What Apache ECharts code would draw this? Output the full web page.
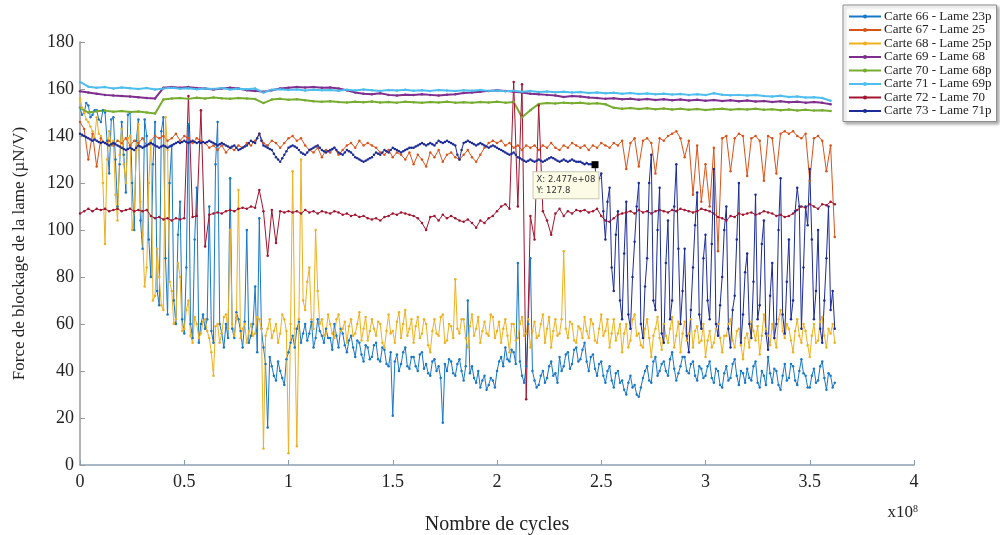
<!DOCTYPE html>
<html>
<head>
<meta charset="utf-8">
<script src="https://cdn.jsdelivr.net/npm/echarts@6/dist/echarts.min.js"></script>
<style>
  html, body { margin: 0; padding: 0; background: #fff; }
  #chart { width: 1000px; height: 535px; }
</style>
</head>
<body>
<div id="chart"></div>
<script>
// x in units of 1e8 cycles; each series sampled with a fixed x step
const stepDense = 0.01;
const stepFine = 0.02;
const stepCoarse = 0.04;

const names = [
  'Carte 66 - Lame 23p', 'Carte 67 - Lame 25', 'Carte 68 - Lame 25p', 'Carte 69 - Lame 68',
  'Carte 70 - Lame 68p', 'Carte 71 - Lame 69p', 'Carte 72 - Lame 70', 'Carte 73 - Lame 71p'
];
const colors = ['#1878c6', '#d95319', '#edb120', '#7e2f8e', '#77ac30', '#4dbeee', '#a2142f', '#1c2c96'];

const xTicks = [0, 0.5, 1, 1.5, 2, 2.5, 3, 3.5, 4];
const yTicks = [0, 20, 40, 60, 80, 100, 120, 140, 160, 180];

// Carte 66 (step 0.01)
const c66 = [
  152, 149, 150, 154, 153, 148, 149, 151, 151, 147,
  146, 151, 150, 138, 124, 147, 148, 130, 110, 128,
  146, 132, 116, 149, 150, 120, 100, 138, 147, 104,
  92, 147, 140, 96, 80, 128, 146, 74, 68, 142,
  148, 88, 64, 120, 136, 70, 60, 98, 112, 62,
  56, 84, 145, 60, 54, 96, 118, 52, 60, 64,
  58, 62, 110, 57, 52, 128, 146, 60, 56, 50,
  60, 54, 122, 58, 54, 65, 62, 57, 50, 61,
  100, 52, 55, 60, 76, 48, 105, 58, 50, 43,
  16, 46, 42, 38, 36, 44, 40, 37, 34, 45,
  48, 52, 55, 50, 58, 61, 52, 56, 60, 53,
  56, 61, 50, 54, 62, 57, 55, 52, 58, 54,
  54, 49, 60, 55, 50, 58, 56, 51, 48, 53,
  55, 50, 46, 53, 52, 47, 44, 51, 50, 45,
  46, 51, 52, 45, 44, 50, 49, 43, 42, 48,
  21, 44, 47, 40, 43, 48, 50, 42, 41, 46,
  46, 42, 40, 47, 48, 41, 43, 39, 38, 44,
  45, 40, 42, 37, 18, 43, 40, 45, 44, 39,
  38, 43, 45, 40, 36, 42, 70, 39, 42, 37,
  35, 40, 33, 36, 38, 32, 34, 37, 36, 33,
  40, 44, 46, 42, 50, 45, 44, 49, 48, 43,
  86, 44, 38, 35, 42, 60, 88, 40, 36, 33,
  34, 38, 40, 35, 37, 42, 44, 38, 39, 35,
  46, 40, 42, 47, 48, 41, 43, 49, 50, 44,
  45, 49, 52, 44, 40, 46, 47, 41, 38, 43,
  44, 38, 35, 40, 42, 36, 33, 39, 40, 35,
  36, 32, 30, 35, 38, 33, 34, 30, 29, 33,
  37, 40, 42, 36, 35, 44, 46, 38, 40, 43,
  44, 40, 38, 45, 48, 41, 36, 39, 42, 46,
  46, 40, 39, 43, 44, 38, 36, 42, 41, 37,
  38, 42, 44, 37, 35, 41, 40, 34, 33, 39,
  42, 36, 37, 43, 45, 38, 34, 40, 39, 35,
  41, 37, 36, 42, 44, 35, 33, 40, 38, 34,
  46, 39, 35, 41, 40, 34, 32, 38, 43, 36,
  37, 43, 42, 36, 34, 40, 45, 39, 38, 33,
  33, 38, 41, 35, 36, 42, 44, 37, 32, 39,
  38, 33, 35
];

// Carte 67 (step 0.02)
const c67 = [
  146, 143, 130, 141, 127, 139, 137, 138, 136, 138,
  137, 139, 136, 138, 137, 139, 136, 138, 140, 139,
  140, 138, 139, 141, 138, 140, 139, 137, 139, 138,
  137, 135, 136, 134, 136, 133, 135, 134, 136, 135,
  137, 136, 138, 141, 137, 136, 138, 137, 135, 137,
  139, 140, 138, 139, 136, 134, 133, 135, 131, 134,
  133, 135, 132, 134, 136, 137, 135, 138, 136, 137,
  136, 135, 133, 132, 134, 131, 133, 132, 130, 133,
  128, 132, 130, 127, 133, 131, 134, 129, 132, 133,
  131, 130, 132, 134, 131, 129, 132, 135, 137, 138,
  137, 138, 136, 137, 135, 136, 134, 136, 135, 136,
  134, 136, 135, 137, 135, 134, 136, 135, 137, 136,
  135, 136, 134, 136, 135, 137, 136, 135, 137, 136,
  138, 126, 137, 139, 127, 138, 139, 137, 124, 139,
  138, 140, 141, 142, 139, 131, 138, 115, 136, 112,
  128, 110, 135, 91, 139, 140, 125, 139, 141, 140,
  123, 139, 140, 138, 121, 140, 139, 124, 141, 142,
  141, 142, 140, 139, 141, 121, 139, 140, 138, 125,
  136, 97
];

// Carte 68 (step 0.01)
const c68 = [
  156, 152, 150, 147, 146, 144, 142, 139, 148, 141,
  140, 120, 94, 130, 142, 136, 138, 115, 104, 132,
  143, 128, 120, 139, 140, 100, 108, 134, 145, 112,
  98, 76, 84, 120, 138, 70, 72, 92, 80, 68,
  66, 148, 134, 78, 74, 60, 62, 86, 80, 57,
  58, 66, 70, 55, 52, 63, 60, 54, 56, 61,
  62, 57, 54, 48, 38, 59, 60, 52, 56, 63,
  64, 58, 100, 60, 55, 62, 117, 54, 58, 60,
  52, 57, 60, 55, 56, 63, 62, 58, 7, 55,
  58, 62, 54, 57, 60, 52, 56, 64, 62, 57,
  5, 60, 125, 58, 8, 62, 130, 70, 66, 78,
  84, 62, 58, 100, 74, 60, 62, 55, 56, 64,
  60, 56, 54, 62, 64, 57, 58, 61, 52, 59,
  62, 55, 56, 60, 65, 53, 58, 63, 53, 57,
  62, 58, 55, 61, 60, 52, 50, 57, 64, 56,
  57, 52, 61, 65, 54, 60, 66, 55, 58, 62,
  52, 59, 63, 54, 56, 62, 60, 51, 48, 57,
  62, 56, 55, 63, 64, 52, 53, 60, 59, 54,
  79, 58, 56, 62, 62, 54, 50, 59, 64, 55,
  58, 63, 52, 57, 61, 56, 55, 64, 63, 54,
  57, 61, 52, 58, 62, 55, 48, 60, 60, 53,
  54, 60, 63, 55, 56, 62, 50, 57, 61, 54,
  55, 60, 64, 52, 58, 63, 50, 57, 62, 55,
  56, 62, 91, 58, 54, 61, 60, 53, 52, 59,
  58, 54, 63, 57, 54, 62, 60, 53, 52, 58,
  64, 55, 57, 62, 50, 56, 62, 53, 56, 60,
  48, 56, 60, 50, 53, 62, 64, 55, 56, 51,
  50, 58, 62, 54, 46, 55, 58, 63, 54, 49,
  60, 55, 52, 58, 63, 50, 55, 61, 48, 56,
  61, 53, 56, 62, 50, 57, 59, 52, 53, 60,
  46, 53, 57, 50, 52, 58, 60, 54, 48, 55,
  55, 60, 62, 53, 50, 57, 58, 51, 45, 54,
  56, 50, 61, 57, 53, 59, 47, 55, 64, 58,
  55, 51, 60, 54, 50, 62, 66, 57, 54, 60,
  58, 53, 48, 57, 62, 55, 52, 60, 57, 51,
  46, 55, 60, 52, 53, 61, 63, 55, 50, 58,
  56, 60, 52
];

// Carte 69 (step 0.04)
const c69 = [
  159, 158.5, 158, 157.5, 157.2, 157, 156.8, 156.5, 156.2, 156,
  160.5, 160.8, 160.5, 160.8, 160.4, 160.2, 159.8, 160.2, 160.5, 160.2,
  159.5, 159.2, 158.8, 159.5, 160.2, 160.5, 160.8, 160.6, 160.9, 160.5,
  160.6, 160.2, 159.5, 158.5, 158, 157.8, 158.2, 157.5, 157.2, 157.6,
  157.4, 157.8, 157.5, 157.2, 157.6, 157.8, 158.3, 158.5, 158.8, 159.2,
  159.5, 159.2, 158.8, 158.5, 158, 157.8, 157.5, 157.2, 156.6, 157,
  156.8, 156.4, 156.2, 155.8, 156.1, 155.6, 155.9, 155.4, 155.7, 155.3,
  155.6, 155.2, 155.5, 155.1, 155.4, 155, 155.3, 154.9, 155.2, 154.8,
  155.1, 154.7, 154.9, 154.5, 154.8, 154.4, 154.6, 154.2, 154.5, 154.1,
  153.5
];

// Carte 70 (step 0.04)
const c70 = [
  152, 150, 150.5, 150.8, 150.3, 150.6, 150.2, 150.4, 150, 149.6,
  155.5, 156, 156.2, 155.8, 156.3, 156, 156.4, 156.1, 155.9, 156.2,
  156, 155.7, 154, 155.5, 155.8, 155.4, 155.6, 155.2, 154.8, 154.6,
  154.8, 154.5, 154.3, 154.6, 154.4, 154.7, 154.3, 154.5, 154.2, 154.6,
  154.4, 154.1, 154.5, 154.3, 154.6, 154.2, 154.4, 154.1, 154.5, 154.3,
  154.6, 154.2, 154.5, 148, 151, 153.6, 154, 153.8, 154.2, 153.9,
  154.1, 153.7, 153.9, 153.5, 152, 151.6, 151.9, 151.5, 151.8, 151.4,
  151.7, 151.3, 151.6, 151.2, 151.5, 151.1, 151.4, 151.6, 151.2, 151.5,
  151.3, 151.6, 151.2, 151.4, 151, 151.3, 150.9, 151.2, 150.8, 151,
  150.6
];

// Carte 71 (step 0.04)
const c71 = [
  163, 161, 160.5, 160.8, 160.2, 160.6, 160.3, 160, 160.4, 159.8,
  160.2, 160.5, 160.1, 160.3, 159.9, 160.2, 160, 160.4, 159.8, 160.1,
  159.9, 160.2, 158.5, 159.7, 159.9, 159.6, 159.8, 159.4, 159.7, 159.5,
  159.6, 159.3, 159.7, 159.4, 159.8, 159.5, 159.2, 159.6, 159.4, 159.7,
  159.3, 159.5, 159.2, 159.6, 159.4, 159.1, 159.5, 159.3, 159.6, 159.2,
  159.4, 159, 159.3, 158.8, 159.1, 158.7, 158.9, 158.6, 158.8, 158.5,
  158.7, 158.3, 158.5, 158.2, 158.4, 158, 158.3, 157.9, 158.1, 157.8,
  158, 157.7, 157.9, 157.5, 157.8, 157.4, 158.2, 157.6, 157.3, 157.5,
  157.2, 157.4, 157, 156.8, 157.1, 156.6, 156.8, 156.4, 156.5, 156.2,
  155
];

// Carte 72 (step 0.02)
const c72 = [
  107, 108, 109, 108, 109, 108.5, 109, 108, 108.5, 109,
  108, 108.5, 109, 108, 108.5, 108, 108.5, 106, 105, 105.5,
  104.5, 105, 104, 105, 104.5, 105, 157, 105.5, 106, 151,
  93, 106.5, 107, 107.5, 107, 108, 108.5, 108, 109, 109.5,
  109, 110, 109.5, 117, 108, 89, 108.5, 94.5, 108, 107.5,
  108, 107.5, 108, 107, 108.5, 107.5, 108, 107, 108, 107.5,
  107, 108, 107.5, 106.5, 107, 106, 106.5, 105.5, 106, 105,
  104.5, 105, 104, 105.5, 106, 107, 106.5, 107.5, 107, 106.5,
  106, 105, 103, 100, 105.5, 106, 104, 106.5, 105, 106,
  105, 104, 103.5, 104.5, 103, 101, 104, 103, 105, 106,
  108, 110, 111, 109, 163, 110, 162, 28, 106, 96,
  153, 108, 104, 98, 107, 109, 106, 108, 107, 108.5,
  108, 108.5, 107.5, 108, 109, 106, 104, 103.5, 105, 106.5,
  107, 107.5, 108, 107, 108.5, 107.5, 108, 107, 108, 108.5,
  108, 107.5, 108.5, 108, 109, 108.5, 108, 107.5, 108, 109,
  108.5, 108, 107, 105.5, 105, 104, 106, 105.5, 107, 106.5,
  107, 107.5, 106.5, 107, 108, 107.5, 107, 106, 106.5, 105.5,
  106, 107, 108.5, 110, 109.5, 111, 110, 109, 111, 110.5,
  112, 111
];

// Carte 73 (step 0.01)
const c73 = [
  141, 140.5, 140, 139.5, 139, 138.5, 138, 138.5, 138, 137.5,
  137, 137.5, 137, 136.5, 136, 136.5, 137, 136.5, 136, 135.5,
  135, 134.5, 134, 134.5, 135, 134.5, 134, 135, 136, 135.5,
  135, 135.5, 136, 136.5, 137, 136.5, 136, 135.5, 135, 135.5,
  136, 135.5, 135, 135.5, 136, 136.5, 137, 137.5, 137, 137.5,
  138, 137.5, 137, 137.5, 138, 137.5, 137, 137.5, 137, 137.5,
  137, 137.5, 138, 137.5, 137, 136.5, 136, 136.5, 137, 136.5,
  136, 135.5, 135, 135.5, 136, 135, 134, 134.5, 135, 135.5,
  136, 137, 138, 137.5, 137, 139, 141, 138, 136, 135.5,
  135, 134.5, 134, 132.5, 131, 130, 129, 130.5, 132, 133.5,
  135, 135.5, 136, 135.5, 135, 134, 133, 132.5, 132, 133,
  134, 134.5, 135, 135.5, 136, 135, 134, 133.5, 133, 133.5,
  134, 134.5, 135, 134, 133, 132.5, 132, 133, 134, 133.5,
  133, 132, 131, 130.5, 130, 129.5, 129, 129.5, 130, 130.5,
  131, 132, 133, 132.5, 132, 133, 134, 133.5, 133, 134,
  135, 134.5, 134, 133.5, 133, 133.5, 134, 134.5, 135, 135,
  135, 135.5, 136, 136.5, 137, 136.5, 136, 136.5, 137, 136.5,
  136, 137, 138, 137.5, 137, 137.5, 138, 137.5, 137, 136.5,
  136, 132, 130, 134, 137, 137.5, 138, 137.5, 137, 136.5,
  136, 136.5, 137, 136.5, 136, 135.5, 135, 135.5, 136, 135.5,
  135, 134.5, 134, 133.5, 133, 132.5, 132, 132.5, 133, 132,
  131, 130.5, 130, 129.5, 129, 129.5, 130, 129.5, 129, 129.5,
  130, 129.5, 129, 129.5, 130, 130.5, 131, 130.5, 130, 129.5,
  129, 129.5, 130, 129.5, 129, 129.5, 130, 129.5, 129, 129,
  129, 128.5, 128, 128.5, 128, 128, 128, 127.8, 116, 122,
  124, 108, 96, 112, 118, 84, 74, 98, 108, 70,
  62, 90, 112, 64, 58, 80, 95, 110, 120, 60,
  54, 76, 88, 120, 132, 70, 66, 100, 118, 56,
  52, 86, 104, 62, 70, 110, 128, 92, 60, 74,
  92, 55, 48, 66, 84, 102, 116, 64, 58, 88,
  98, 70, 62, 94, 126, 60, 55, 68, 80, 100,
  110, 58, 50, 66, 72, 96, 120, 52, 64, 82,
  90, 60, 54, 78, 115, 62, 68, 94, 104, 56,
  49, 72, 86, 54, 60, 100, 122, 64, 56, 78,
  96, 62, 70, 108, 118, 110, 58, 84, 110, 102,
  126, 96, 62, 74, 100, 58, 52, 70, 88, 110,
  66, 74, 58
];

const datatip = { x: 2.47, y: 127.8, text: 'X: 2.477e+08\nY: 127.8' };

const seriesData = [
  [c66, stepDense], [c67, stepFine], [c68, stepDense], [c69, stepCoarse],
  [c70, stepCoarse], [c71, stepCoarse], [c72, stepFine], [c73, stepDense]
];

function toPairs(ys, step) {
  return ys.map((y, i) => [+(i * step).toFixed(2), y]);
}

const serif = 'Liberation Serif';
const chart = echarts.init(document.getElementById('chart'));

const series = seriesData.map(([ys, step], k) => {
  const s = {
    name: names[k],
    type: 'line',
    data: toPairs(ys, step),
    symbol: 'circle',
    symbolSize: 2.5,
    showSymbol: true,
    showAllSymbol: true,
    lineStyle: { width: step === stepCoarse ? 2 : 1, color: colors[k] },
    itemStyle: { color: colors[k] },
    emphasis: { disabled: true }
  };
  if (k === 7) {
    s.markPoint = {
      symbol: 'rect',
      symbolSize: 7,
      itemStyle: { color: '#000' },
      data: [{ coord: [datatip.x, datatip.y] }],
      label: {
        show: true,
        formatter: datatip.text,
        position: [-58, 11],
        backgroundColor: '#fbfbe6',
        borderColor: '#c8c8b0',
        borderWidth: 1,
        padding: [2, 3],
        fontSize: 8.5,
        lineHeight: 11,
        fontFamily: 'DejaVu Sans',
        color: '#333',
        align: 'left',
        verticalAlign: 'top'
      }
    };
  }
  return s;
});

chart.setOption({
  animation: false,
  backgroundColor: '#fff',
  color: colors,
  grid: { left: 80, right: 86, top: 42, bottom: 70, containLabel: false, outerBoundsMode: 'none' },
  legend: {
    data: names,
    orient: 'vertical',
    left: 843,
    top: 5,
    itemWidth: 32,
    itemHeight: 5,
    itemGap: 0.5,
    padding: [5, 5, 4, 5],
    backgroundColor: '#fff',
    borderColor: '#8c8c8c',
    borderWidth: 1,
    shadowColor: 'rgba(0,0,0,0.3)',
    shadowBlur: 3,
    shadowOffsetX: 2,
    shadowOffsetY: 2,
    textStyle: { fontFamily: serif, fontSize: 13, lineHeight: 13, color: '#222', padding: [0, 0, 0, -2] }
  },
  xAxis: {
    type: 'value',
    min: xTicks[0],
    max: xTicks[xTicks.length - 1],
    interval: 0.5,
    name: 'Nombre de cycles',
    nameLocation: 'middle',
    nameGap: 50,
    nameTextStyle: { fontFamily: serif, fontSize: 20, color: '#222' },
    axisLine: { lineStyle: { color: '#8aa0b0', width: 1.5 } },
    axisTick: { inside: true, length: 5, lineStyle: { color: '#8aa0b0' } },
    axisLabel: { fontFamily: serif, fontSize: 18, color: '#222', margin: 8 },
    splitLine: { show: false }
  },
  yAxis: {
    type: 'value',
    min: yTicks[0],
    max: yTicks[yTicks.length - 1],
    interval: 20,
    name: 'Force de blockage de la lame (µN/V)',
    nameLocation: 'middle',
    nameGap: 52,
    nameTextStyle: { fontFamily: serif, fontSize: 17, color: '#222' },
    axisLine: { show: true, lineStyle: { color: '#9a9a9a', width: 1.5 } },
    axisTick: { show: true, inside: true, length: 5, lineStyle: { color: '#9a9a9a' } },
    axisLabel: { fontFamily: serif, fontSize: 18, color: '#222', margin: 6 },
    splitLine: { show: false }
  },
  graphic: [{
    type: 'text',
    right: 1000 - 918,
    top: 504,
    style: {
      text: '{a|x10}{b|8}',
      rich: {
        a: { fontFamily: serif, fontSize: 17, fill: '#222', verticalAlign: 'bottom' },
        b: { fontFamily: serif, fontSize: 10, fill: '#222', verticalAlign: 'top' }
      }
    }
  }],
  series: series
});
</script>
</body>
</html>
